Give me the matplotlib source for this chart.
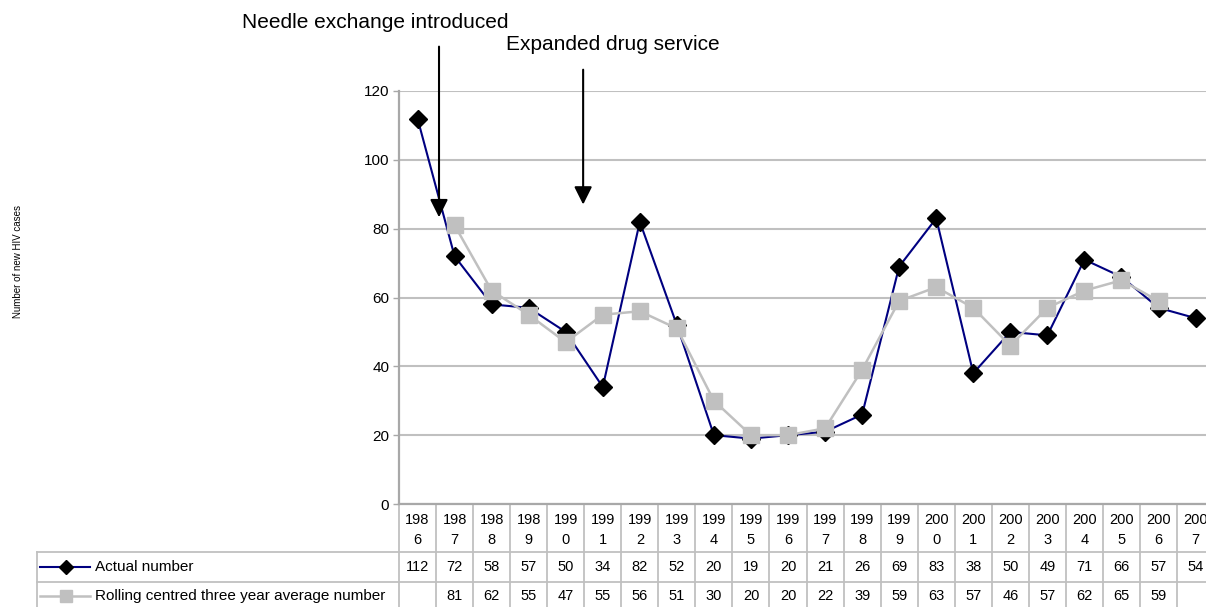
import numpy as np
import matplotlib
matplotlib.use('Agg')
import matplotlib.pyplot as plt
from matplotlib.transforms import blended_transform_factory

plt.rcParams['font.family'] = ['Liberation Sans', 'DejaVu Sans']

years = list(range(1986, 2008))
actual = [112, 72, 58, 57, 50, 34, 82, 52, 20, 19, 20, 21, 26, 69, 83, 38, 50, 49, 71, 66, 57, 54]
rolling = [None, 81, 62, 55, 47, 55, 56, 51, 30, 20, 20, 22, 39, 59, 63, 57, 46, 57, 62, 65, 59, None]
yticks = [0, 20, 40, 60, 80, 100, 120]
series_names = ['Actual number', 'Rolling centred three year average number']
notes = ['Needle exchange introduced', 'Expanded drug service']

W, H = 1206, 607
grid_col = '#c0c0c0'
navy = '#000080'

fig = plt.figure(figsize=(W / 100, H / 100), dpi=100)

# plot area in pixels (chart is cropped on the right in the original)
x0, y_top, y0 = 399, 91, 504
colw = 37.05
n = len(years)
ax = fig.add_axes([x0 / W, 1 - y0 / H, n * colw / W, (y0 - y_top) / H])
ax.set_xlim(-0.5, n - 0.5)
ax.set_ylim(0, 120)

xs = np.arange(n)
roll = np.array([np.nan if v is None else v for v in rolling], dtype=float)

ax.plot(xs, actual, color=navy, lw=1.5, marker='D', ms=9, mfc='black', mec='black', zorder=3)
ax.plot(xs, roll, color=grid_col, lw=1.8, marker='s', ms=11, mfc=grid_col, mec=grid_col, zorder=4)

ax.set_yticks(yticks)
ax.set_xticks([])
ax.yaxis.grid(True, color=grid_col, lw=1.5)
ax.set_axisbelow(True)
for s in ['top', 'right']:
    ax.spines[s].set_visible(False)
for s in ['left', 'bottom']:
    ax.spines[s].set_color('#a8a8a8')
    ax.spines[s].set_linewidth(1.6)
ax.tick_params(axis='y', length=4, width=1, color='#a8a8a8', pad=3, labelsize=11)

fig.text(18 / W, 1 - 262 / H, 'Number of new HIV cases', rotation=90,
         ha='center', va='center', fontsize=7)

# annotations with arrows
ax.annotate('', xy=(0.58, 82.5), xytext=(0.58, 133.7), annotation_clip=False,
            arrowprops=dict(arrowstyle='-|>,head_length=0.6,head_width=0.3',
                            color='black', lw=1.5, mutation_scale=18))
ax.annotate('', xy=(4.47, 86.2), xytext=(4.47, 127.0), annotation_clip=False,
            arrowprops=dict(arrowstyle='-|>,head_length=0.6,head_width=0.3',
                            color='black', lw=1.5, mutation_scale=18))
fig.text(375 / W, 1 - 22 / H, notes[0], ha='center', va='center', fontsize=15)
fig.text(506 / W, 1 - 45 / H, notes[1], ha='left', va='center', fontsize=15)

# data table under the plot
tr = blended_transform_factory(ax.transData, fig.transFigure)


def fy(py):
    return 1 - py / H


row1, row2, row_end = 552, 582, 612
lw_t = 1.3
# horizontal lines
fig.add_artist(plt.Line2D([37 / W, 1.02], [fy(row1)] * 2, color=grid_col, lw=lw_t))
fig.add_artist(plt.Line2D([37 / W, 1.02], [fy(row2)] * 2, color=grid_col, lw=lw_t))
fig.add_artist(plt.Line2D([37 / W, 37 / W], [fy(row1), fy(row_end)], color=grid_col, lw=lw_t))
# vertical column lines
for k in range(n + 1):
    ax.add_artist(plt.Line2D([k - 0.5, k - 0.5], [fy(y0), fy(row_end)], color=grid_col,
                             lw=lw_t, transform=tr, clip_on=False))

for i, yr in enumerate(years):
    s = str(yr)
    ax.text(i, fy(520), s[:3], transform=tr, ha='center', va='center', fontsize=10.5, clip_on=False)
    ax.text(i, fy(540), s[3:], transform=tr, ha='center', va='center', fontsize=10.5, clip_on=False)
    ax.text(i, fy(567), str(actual[i]), transform=tr, ha='center', va='center', fontsize=10.5, clip_on=False)
    if rolling[i] is not None:
        ax.text(i, fy(596), str(rolling[i]), transform=tr, ha='center', va='center', fontsize=10.5, clip_on=False)

# legend keys in the table
fig.add_artist(plt.Line2D([40 / W, 90 / W], [fy(567)] * 2, color=navy, lw=1.5))
fig.add_artist(plt.Line2D([66 / W], [fy(567)], marker='D', ms=7, color='black', lw=0))
fig.add_artist(plt.Line2D([40 / W, 90 / W], [fy(596)] * 2, color=grid_col, lw=1.8))
fig.add_artist(plt.Line2D([66 / W], [fy(596)], marker='s', ms=9, color=grid_col, lw=0))
fig.text(95 / W, fy(567), series_names[0], ha='left', va='center', fontsize=11)
fig.text(95 / W, fy(596), series_names[1], ha='left', va='center', fontsize=11)

fig.savefig('out.png', dpi=100)
